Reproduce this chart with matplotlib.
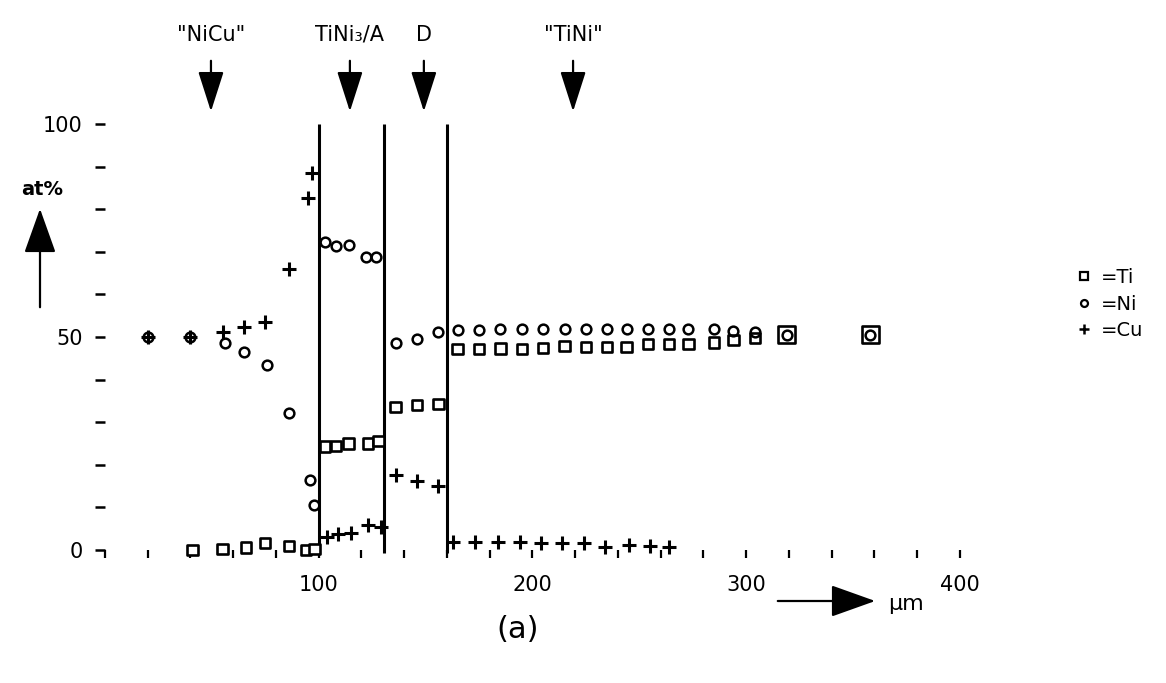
import numpy as np
import matplotlib.pyplot as plt
from matplotlib.lines import Line2D
from matplotlib.patches import FancyArrowPatch

# concentration profile (at%) across the diffusion zone, distance in um
ti_x = [41, 55, 66, 75, 86, 94, 98, 103, 108, 114, 123, 128, 136, 146, 156,
        165, 175, 185, 195, 205, 215, 225, 235, 244, 254, 264, 273, 285, 294, 304, 319, 358]
ti_y = [0, 0.2, 0.6, 1.6, 1.0, 0, 0.3, 24.3, 24.4, 25.0, 25.0, 25.6, 33.5, 34.0, 34.2,
        47.2, 47.2, 47.3, 47.2, 47.5, 47.9, 47.6, 47.7, 47.7, 48.3, 48.3, 48.3, 48.7, 49.3, 49.7, 50.5, 50.5]

ni_x = [20, 40, 56, 65, 76, 86, 96, 98, 103, 108, 114, 122, 127, 136, 146, 156,
        165, 175, 185, 195, 205, 215, 225, 235, 244, 254, 264, 273, 285, 294, 304, 319, 358]
ni_y = [50, 50, 48.7, 46.6, 43.4, 32.2, 16.4, 10.6, 72.2, 71.4, 71.6, 68.9, 68.9, 48.5, 49.5, 51.1,
        51.6, 51.7, 51.8, 51.8, 51.8, 51.8, 51.8, 51.8, 51.8, 52.0, 51.8, 52.0, 51.8, 51.4, 51.2, 50.5, 50.5]

cu_x = [20, 40, 55, 65, 75, 86, 95, 97, 104, 109, 115, 123, 129, 136, 146, 156,
        163, 173, 184, 194, 204, 214, 224, 234, 245, 255, 264]
cu_y = [50, 50, 51.1, 52.3, 53.6, 66.0, 82.6, 88.6, 3.1, 3.7, 3.9, 5.9, 5.5, 17.6, 16.2, 15.1,
        1.9, 2.0, 1.9, 1.9, 1.7, 1.6, 1.6, 0.8, 1.2, 0.9, 0.6]

boundaries = [100, 130.5, 160]
phase_names = ['"NiCu"', 'TiNi₃/A', 'D', '"TiNi"']
phase_pos = [49.6, 114.6, 149.2, 219]

plt.rcParams['font.family'] = 'DejaVu Sans'

fig = plt.figure(figsize=(11.66, 6.83), dpi=100)
ax = fig.add_axes([0.09, 0.1947, 0.7333, 0.6237])

# where Ti and Ni coincide the square is drawn bigger round the circle
ni_pts = set(zip(ni_x, ni_y))
ti_size = [150 if (x, y) in ni_pts else 55 for x, y in zip(ti_x, ti_y)]
ax.scatter(ti_x, ti_y, s=ti_size, marker='s', facecolors='white', edgecolors='black',
           linewidths=1.9, clip_on=False, zorder=3)
ax.plot(ni_x, ni_y, linestyle='none', color='black', marker='o', ms=7, mfc='none',
        mew=1.8, clip_on=False, zorder=4)
ax.plot(cu_x, cu_y, linestyle='none', color='black', marker='+', ms=10, mew=2.2,
        clip_on=False, zorder=4)

ax.vlines(boundaries, -0.8, 100, colors='black', lw=2.2, clip_on=False)

ax.set_xlim(0, 400)
ax.set_ylim(0, 100)
for s in ax.spines.values():
    s.set_visible(False)

xt = np.arange(0, 401, 20)
ax.set_xticks(xt)
ax.set_xticklabels([str(v) if v % 100 == 0 and v > 0 else '' for v in xt], fontsize=15)
yt = np.arange(0, 101, 10)
ax.set_yticks(yt)
ax.set_yticklabels([str(v) if v % 50 == 0 else '' for v in yt], fontsize=15)
ax.tick_params(axis='x', direction='out', length=6, width=1.6, pad=12)
ax.tick_params(axis='y', direction='out', length=7, width=1.8, pad=9)

# phase labels with arrows on top
for name, xp in zip(phase_names, phase_pos):
    ax.annotate('', xy=(xp, 102.3), xytext=(xp, 115.5), annotation_clip=False,
                arrowprops=dict(arrowstyle='-|>,head_length=1.25,head_width=0.4',
                                lw=1.6, color='black', mutation_scale=20))
    ax.text(xp, 121, name, ha='center', va='center', fontsize=15, clip_on=False)

# y-axis label with arrow
fig.text(42 / 1166, 1 - 190 / 683, 'at%', ha='center', va='center', fontsize=14, fontweight='bold')
fig.patches.append(FancyArrowPatch(
    (40 / 1166, 1 - 310 / 683), (40 / 1166, 1 - 206 / 683), transform=fig.transFigure,
    arrowstyle='-|>,head_length=1.4,head_width=0.5', mutation_scale=20, lw=1.6, color='black'))

# x-axis unit with arrow
fig.patches.append(FancyArrowPatch(
    (775 / 1166, 1 - 601 / 683), (878 / 1166, 1 - 601 / 683), transform=fig.transFigure,
    arrowstyle='-|>,head_length=1.4,head_width=0.5', mutation_scale=20, lw=1.6, color='black'))
fig.text(888 / 1166, 1 - 604 / 683, 'µm', ha='left', va='center', fontsize=16)

fig.text(518 / 1166, 1 - 630 / 683, '(a)', ha='center', va='center', fontsize=22)

handles = [Line2D([], [], marker='s', ms=6, mfc='white', mew=1.6, color='black', linestyle='none'),
           Line2D([], [], marker='o', ms=5, mfc='none', mew=1.6, color='black', linestyle='none'),
           Line2D([], [], marker='+', ms=7, mew=1.8, color='black', linestyle='none')]
fig.legend(handles, ['=Ti', '=Ni', '=Cu'], loc='upper left', frameon=False,
           bbox_to_anchor=(1066 / 1166, 1 - 258 / 683), fontsize=14,
           handlelength=0.8, handletextpad=0.5, labelspacing=0.4, borderpad=0)

fig.savefig('out.png', dpi=100)
